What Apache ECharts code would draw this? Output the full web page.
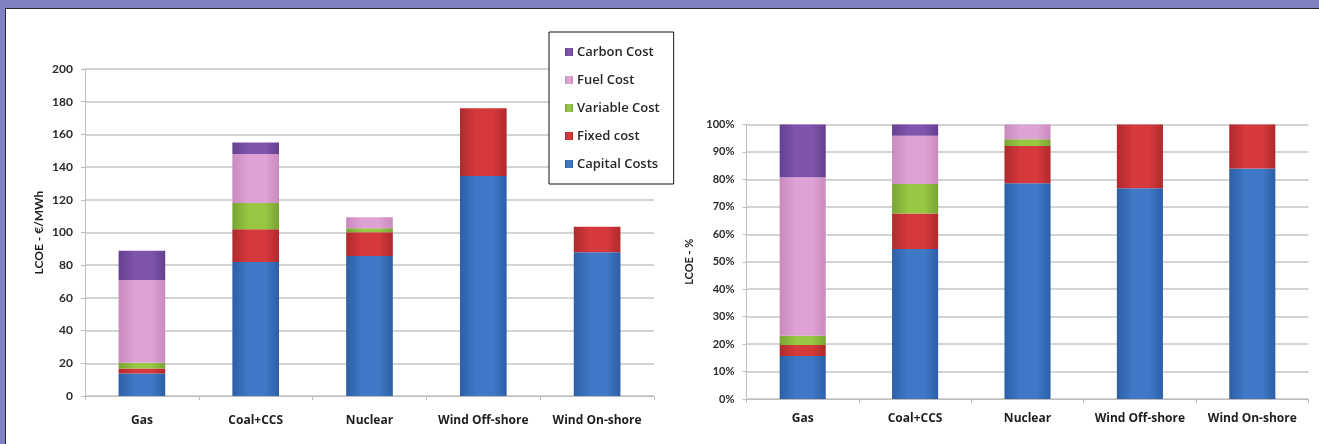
<!DOCTYPE html>
<html>
<head>
<meta charset="utf-8">
<script src="https://cdn.jsdelivr.net/npm/echarts@6/dist/echarts.min.js"></script>
<style>
  html, body { margin: 0; padding: 0; background: #ffffff; overflow: hidden; }
  #page { position: relative; width: 1319px; height: 444px; background: #8081c1; }
  /* white panel with a dark rule along its top and left edges */
  #panel { position: absolute; left: 5px; top: 8px; width: 1314px; height: 436px;
           background: #ffffff; border-top: 1.5px solid #2a2a2e; border-left: 1.5px solid #2a2a2e; box-sizing: border-box; }
  #chart { position: absolute; left: 0; top: 0; width: 1311px; height: 444px; }
</style>
</head>
<body>
<div id="page"><div id="panel"></div><div id="chart"></div></div>
<script>
// Technologies on the category axis
const categories = ['Gas', 'Coal+CCS', 'Nuclear', 'Wind Off-shore', 'Wind On-shore'];

// Levelised cost of electricity, €/MWh, by cost component
const capitalCosts  = [13.8, 82.0, 85.6, 134.5, 87.9];
const fixedCost     = [3.0, 20.0, 14.5, 41.5, 15.6];
const variableCost  = [3.6, 16.0, 2.5, 0, 0];
const fuelCost      = [50.5, 30.0, 6.7, 0, 0];
const carbonCost    = [18.0, 7.0, 0, 0, 0];

// Share of each component in the total LCOE, %
const capitalShare  = [15.7, 54.6, 78.6, 76.8, 84.0];
const fixedShare    = [4.0, 13.0, 13.6, 23.2, 16.0];
const variableShare = [3.3, 10.7, 2.4, 0, 0];
const fuelShare     = [57.8, 17.6, 5.4, 0, 0];
const carbonShare   = [19.2, 4.1, 0, 0, 0];

// Axis ticks
const costTicks = { min: 0, max: 200, interval: 20 };
const shareTicks = { min: 0, max: 100, interval: 10 };

const seriesNames = ['Capital Costs', 'Fixed cost', 'Variable Cost', 'Fuel Cost', 'Carbon Cost'];
const baseColors  = ['#3f79c6', '#d6393b', '#98c744', '#dfa2d5', '#7f54ad'];
const edgeColors  = ['#2d5fa6', '#b02a2d', '#78a333', '#c98bbf', '#65408f'];

function shaded(i) {
  return new echarts.graphic.LinearGradient(0, 0, 1, 0, [
    { offset: 0, color: edgeColors[i] },
    { offset: 0.35, color: baseColors[i] },
    { offset: 0.7, color: baseColors[i] },
    { offset: 1, color: edgeColors[i] }
  ]);
}

const FONT = 'Lato, "Open Sans", sans-serif';
const LABEL_FONT = '"Open Sans", Lato, sans-serif';
const gridLine = { show: true, lineStyle: { color: '#c6c6c6', width: 1.5 } };
const axisGrey = { show: true, lineStyle: { color: '#bdbdbd', width: 1 } };

function catAxis(gridIndex, margin) {
  return {
    type: 'category', gridIndex, data: categories,
    axisLine: axisGrey,
    axisTick: { show: true, length: 4, lineStyle: { color: '#bdbdbd' } },
    axisLabel: { interval: 0, margin, color: '#1e1e1e', fontFamily: LABEL_FONT, fontWeight: 'bold', fontSize: 12 }
  };
}

const costSets  = [capitalCosts, fixedCost, variableCost, fuelCost, carbonCost];
const shareSets = [capitalShare, fixedShare, variableShare, fuelShare, carbonShare];

const series = [];
seriesNames.forEach((name, i) => {
  series.push({
    name, type: 'bar', stack: 'cost', xAxisIndex: 0, yAxisIndex: 0,
    barWidth: '41%', data: costSets[i],
    itemStyle: { color: shaded(i) }
  });
});
seriesNames.forEach((name, i) => {
  series.push({
    name, type: 'bar', stack: 'share', xAxisIndex: 1, yAxisIndex: 1,
    barWidth: '41%', data: shareSets[i],
    itemStyle: { color: shaded(i) }
  });
});

const chart = echarts.init(document.getElementById('chart'), null, { renderer: 'canvas' });
chart.setOption({
  animation: false,
  legend: {
    orient: 'vertical',
    left: 549, top: 32,
    data: ['Carbon Cost', 'Fuel Cost', 'Variable Cost', 'Fixed cost', 'Capital Costs'],
    itemWidth: 8, itemHeight: 8, itemGap: 14,
    padding: [13, 14, 13, 16],
    borderColor: '#111', borderWidth: 1, backgroundColor: '#ffffff',
    icon: 'rect',
    textStyle: { fontFamily: LABEL_FONT, fontSize: 13, fontWeight: 600, color: '#262626', lineHeight: 14, padding: [0, 0, 0, -1] },
    selectedMode: false
  },
  color: baseColors,
  grid: [
    { left: 85, top: 69, width: 569, height: 327 },
    { left: 746.5, top: 124.5, width: 562, height: 274.5 }
  ],
  xAxis: [catAxis(0, 19), catAxis(1, 14)],
  yAxis: [
    {
      type: 'value', gridIndex: 0, min: costTicks.min, max: costTicks.max, interval: costTicks.interval,
      name: 'LCOE - €/MWh', nameLocation: 'middle', nameGap: 40,
      nameTextStyle: { fontFamily: FONT, fontWeight: 'bold', fontSize: 12, color: '#1e1e1e' },
      axisLine: axisGrey,
      axisTick: { show: true, length: 4, lineStyle: { color: '#bdbdbd' } },
      axisLabel: { margin: 12, color: '#2a2a2a', fontFamily: FONT, fontWeight: 'bold', fontSize: 12 },
      splitLine: gridLine
    },
    {
      type: 'value', gridIndex: 1, min: shareTicks.min, max: shareTicks.max, interval: shareTicks.interval,
      name: 'LCOE - %', nameLocation: 'middle', nameGap: 52,
      nameTextStyle: { fontFamily: FONT, fontWeight: 'bold', fontSize: 11, color: '#1e1e1e' },
      axisLine: axisGrey,
      axisTick: { show: true, length: 4, lineStyle: { color: '#bdbdbd' } },
      axisLabel: { margin: 12, color: '#2a2a2a', fontFamily: FONT, fontWeight: 'bold', fontSize: 11, formatter: '{value}%' },
      splitLine: gridLine
    }
  ],
  series
});
</script>
</body>
</html>
